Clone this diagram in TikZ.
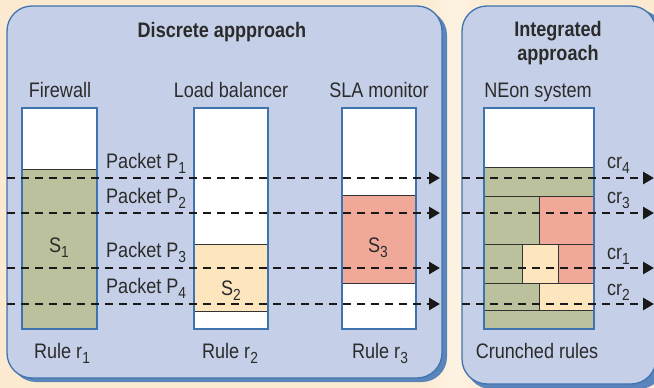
\documentclass[tikz,border=0pt]{standalone}
\usepackage{fontspec}
\setmainfont{Liberation Sans}[FakeStretch=0.86]
\usetikzlibrary{arrows.meta}
\definecolor{bgpeach}{HTML}{FCEAD0}
\definecolor{bglight}{HTML}{FDF2E2}
\definecolor{panelfill}{HTML}{C5D0E8}
\definecolor{panelline}{HTML}{3F73AE}
\definecolor{panelshadow}{HTML}{5A84BC}
\definecolor{gcell}{HTML}{BBC19D}
\definecolor{rcell}{HTML}{F0A999}
\definecolor{ycell}{HTML}{FDE5BE}
\definecolor{txt}{HTML}{2B2B2B}
\newcommand\sbs[1]{\raisebox{-5pt}{\fontsize{16}{16}\selectfont #1}}
\tikzset{
  panel/.style={fill=panelfill,draw=panelline,line width=1.3pt,rounded corners=25pt},
  pshadow/.style={fill=panelshadow,rounded corners=25pt},
  lbl/.style={font=\fontsize{21}{24}\selectfont,text=txt,inner sep=0pt},
  ttl/.style={font=\fontsize{21}{24}\selectfont\bfseries,text=txt,inner sep=0pt},
  cellline/.style={draw=black!80,line width=0.9pt},
  boxline/.style={draw=panelline,line width=1.3pt},
  flow/.style={draw=black!90,line width=2.8pt,dash pattern=on 8pt off 6pt,-{Triangle[length=11pt,width=12pt]}}
}
\begin{document}
\begin{tikzpicture}[x=1pt,y=-1pt]
\useasboundingbox (0,0) rectangle (654,388);
\fill[bgpeach] (0,0) rectangle (654,388);
\shade[left color=bgpeach,right color=bgpeach,middle color=bglight] (420,0) rectangle (490,388);
\begin{scope}
\clip (0,0) rectangle (654,388);
% panels
\fill[pshadow] (11,10) rectangle (447,382);
\draw[panel] (7,6) rectangle (442,378);
\fill[pshadow] (466,10) rectangle (664,389);
\draw[panel] (462,6) rectangle (656,384);
\end{scope}

% titles
\node[ttl,anchor=base] (t1) at (222,37) {Discrete appproach};
\node[ttl,anchor=base] (t2a) at (558,36) {Integrated};
\node[ttl,anchor=base] (t2b) at (558,60) {approach};

\node[lbl,anchor=base] (hfw) at (60,97) {Firewall};
\node[lbl,anchor=base] (hlb) at (231,97) {Load balancer};
\node[lbl,anchor=base] (hsla) at (379,97) {SLA monitor};
\node[lbl,anchor=base] (hne) at (538,97) {NEon system};

% firewall
\fill[white] (22,108) rectangle (97,169);
\filldraw[fill=gcell,cellline] (22,169) rectangle (97,329);
% load balancer
\fill[white] (194,108) rectangle (268,329);
\filldraw[fill=ycell,cellline] (194,244) rectangle (268,311);
% SLA
\fill[white] (342,108) rectangle (416,329);
\filldraw[fill=rcell,cellline] (342,195) rectangle (416,283);
% NEon
\fill[white] (484,108) rectangle (594,167);
\filldraw[fill=gcell,cellline] (484,167) rectangle (594,196);
\filldraw[fill=gcell,cellline] (484,196) rectangle (539,244);
\filldraw[fill=rcell,cellline] (539,196) rectangle (594,244);
\filldraw[fill=gcell,cellline] (484,244) rectangle (522,283);
\filldraw[fill=ycell,cellline] (522,244) rectangle (558,283);
\filldraw[fill=rcell,cellline] (558,244) rectangle (594,283);
\filldraw[fill=gcell,cellline] (484,283) rectangle (539,310);
\filldraw[fill=ycell,cellline] (539,283) rectangle (594,310);
\filldraw[fill=gcell,cellline] (484,310) rectangle (594,329);

% outer box borders
\draw[boxline] (22,108) rectangle (97,329);
\draw[boxline] (194,108) rectangle (268,329);
\draw[boxline] (342,108) rectangle (416,329);
\draw[boxline] (484,108) rectangle (594,329);

% segment labels
\node[lbl,anchor=base] (s1) at (59,252) {S\sbs{1}};
\node[lbl,anchor=base] (s2) at (231,295) {S\sbs{2}};
\node[lbl,anchor=base] (s3) at (378,252) {S\sbs{3}};

% packet labels
\node[lbl,anchor=base west] (p1) at (106,168) {Packet P\sbs{1}};
\node[lbl,anchor=base west] (p2) at (106,203) {Packet P\sbs{2}};
\node[lbl,anchor=base west] (p3) at (106,257) {Packet P\sbs{3}};
\node[lbl,anchor=base west] (p4) at (106,293) {Packet P\sbs{4}};

\node[lbl,anchor=base west] (c4) at (607,168) {cr\sbs{4}};
\node[lbl,anchor=base west] (c3) at (607,203) {cr\sbs{3}};
\node[lbl,anchor=base west] (c1) at (607,259) {cr\sbs{1}};
\node[lbl,anchor=base west] (c2) at (607,295) {cr\sbs{2}};

% flows
\foreach \i/\y in {1/178,2/213,3/268,4/304}{
  \coordinate (ls\i) at (7,\y);
  \coordinate (le\i) at (440,\y);
  \coordinate (rs\i) at (462,\y);
  \coordinate (re\i) at (654,\y);
  \draw[flow] (ls\i) -- (le\i);
  \draw[flow] (rs\i) -- (re\i);
}

% rule labels
\node[lbl,anchor=base] (r1) at (62,358) {Rule r\sbs{1}};
\node[lbl,anchor=base] (r2) at (230,358) {Rule r\sbs{2}};
\node[lbl,anchor=base] (r3) at (380,358) {Rule r\sbs{3}};
\node[lbl,anchor=base] (cr) at (537,358) {Crunched rules};
\end{tikzpicture}
\end{document}
